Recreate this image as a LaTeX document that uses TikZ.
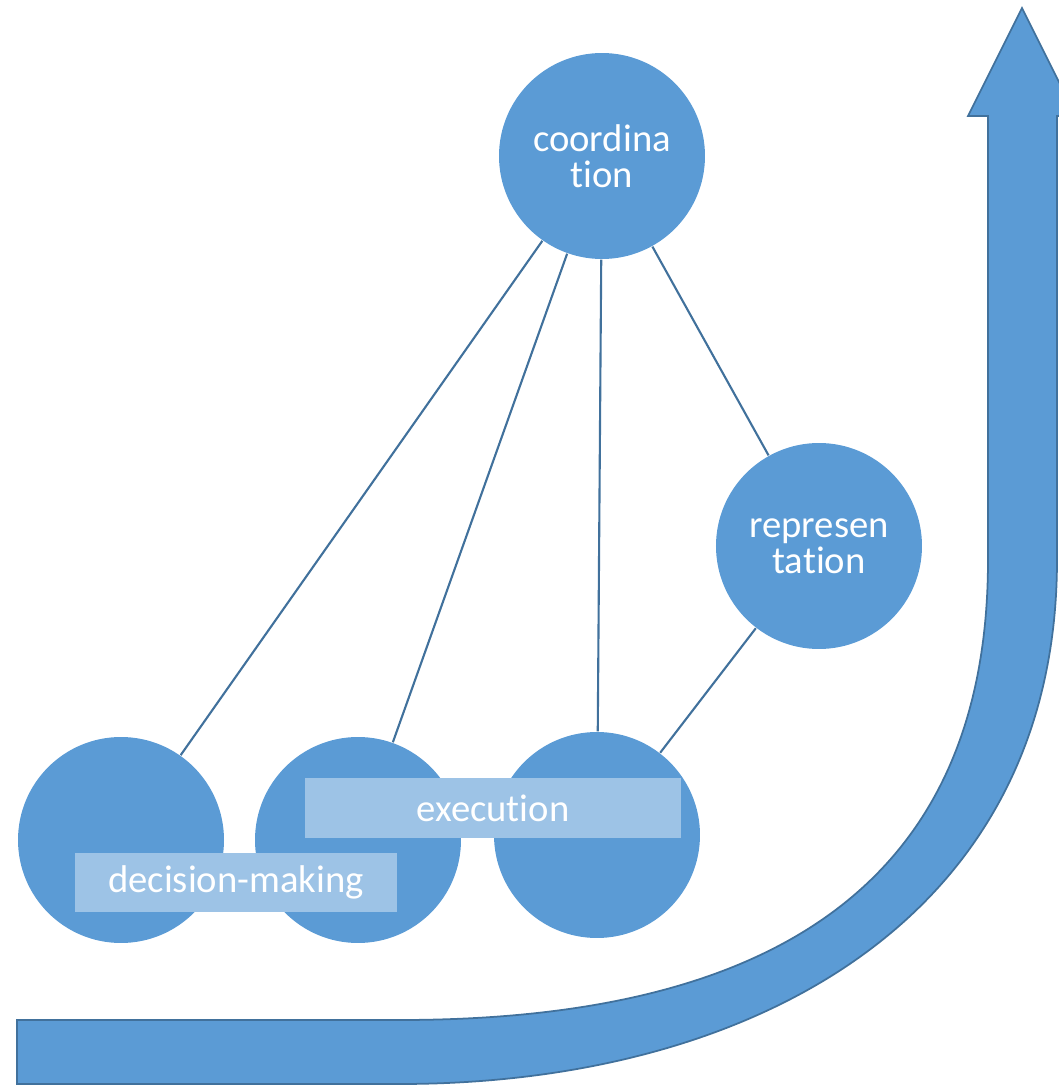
\documentclass[tikz,border=0pt]{standalone}
\usepackage{fontspec}
\setmainfont{Carlito}[Ligatures=NoCommon]
\usetikzlibrary{positioning}
\definecolor{ballblue}{HTML}{5B9BD5}
\definecolor{tagblue}{HTML}{9DC3E6}
\definecolor{lineblue}{HTML}{41719C}

\begin{document}
\begin{tikzpicture}[
  bubble/.style={circle, fill=ballblue, minimum size=2.06cm, inner sep=0pt, text=white, align=center, font=\fontsize{11}{10.2}\selectfont},
  tag/.style={rectangle, fill=tagblue, inner sep=0pt, text=white, font=\fontsize{11}{12}\selectfont},
  link/.style={draw=lineblue, line width=0.6pt}
]
\useasboundingbox (0,0) rectangle (10.59,10.87);
\clip (0,0) rectangle (10.59,10.87);

% big bent arrow
\draw[fill=ballblue, draw=lineblue, line width=0.5pt]
  (0.17,0.67) -- (4.00,0.67) .. controls (7.50,0.67) and (9.88,1.87) .. (9.88,5.27)
  -- (9.88,9.71) -- (9.68,9.71) -- (10.22,10.79) -- (10.76,9.71) -- (10.57,9.71)
  -- (10.57,5.27) .. controls (10.57,1.67) and (7.50,0.03) .. (4.00,0.03)
  -- (0.17,0.03) -- cycle;

% circles
\node[bubble] (coord) at (6.02,9.31) {coordina\\tion};
\node[bubble] (repr) at (8.19,5.41) {represen\\tation};
\node[bubble] (left) at (1.21,2.47) {};
\node[bubble] (mid) at (3.58,2.47) {};
\node[bubble] (right) at (5.97,2.52) {};

% connections
\draw[link] (coord) -- (left);
\draw[link] (coord) -- (mid);
\draw[link] (coord) -- (right);
\draw[link] (coord) -- (repr);
\draw[link] (repr) -- (right);

% labels
\node[tag, minimum width=3.22cm, minimum height=0.59cm] (dm) at (2.36,2.045) {decision-making};
\node[tag, minimum width=3.76cm, minimum height=0.60cm] (ex) at (4.93,2.79) {execution};
\end{tikzpicture}
\end{document}
